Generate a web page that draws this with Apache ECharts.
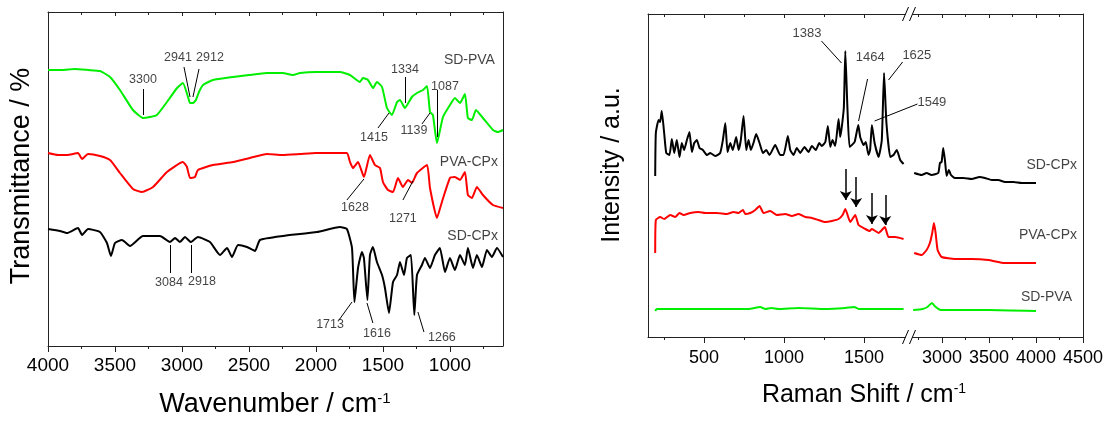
<!DOCTYPE html>
<html><head><meta charset="utf-8">
<script src="https://cdn.jsdelivr.net/npm/echarts@6/dist/echarts.min.js"></script>
<style>html,body{margin:0;padding:0;background:#fff}#c{width:1114px;height:422px}</style>
</head><body><div id="c"></div>
<script>
// ---------- tick labels ----------
const ftirTicks = [4000, 3500, 3000, 2500, 2000, 1500, 1000];
const ftirMinorTicks = [3750, 3250, 2750, 2250, 1750, 1250, 750];
const ramanTicksLow = [500, 1000, 1500];
const ramanMinorLow = [250, 750, 1250];
const ramanTicksHigh = [3000, 3500, 4000, 4500];
const ramanMinorHigh = [2750, 3250, 3750, 4250];

// ---------- FTIR spectra [wavenumber, offset transmittance a.u.] ----------
const ftirSDPVA = [[4000,276],[3900,276],[3800,277],[3700,276],[3612,275],[3537,269],[3463,256],[3366,236],[3291,228],[3240,229],[3187,231],[3112,244],[3037,258],[2993,263],[2955,249],[2940,243],[2918,243],[2896,246],[2873,254],[2843,261],[2769,266],[2619,269],[2500,271],[2366,273],[2250,273],[2172,271],[2119,273],[2000,274],[1900,274],[1821,274],[1746,271],[1672,264],[1649,268],[1612,266],[1574,258],[1545,264],[1507,259],[1470,238],[1433,231],[1395,244],[1373,246],[1336,238],[1284,249],[1246,253],[1201,256],[1171,260],[1149,234],[1127,231],[1097,203],[1052,229],[1000,241],[963,248],[925,243],[888,252],[866,228],[836,226],[806,236],[754,228],[679,216],[642,214],[604,216]];
const ftirPVACPx = [[4000,193],[3925,191],[3858,191],[3776,193],[3746,187],[3701,192],[3612,190],[3537,186],[3463,173],[3366,157],[3298,154],[3216,159],[3112,174],[2993,184],[2963,179],[2940,168],[2903,169],[2881,176],[2769,181],[2619,184],[2492,188],[2366,192],[2250,191],[2119,192],[2000,193],[1900,193],[1769,193],[1746,184],[1724,178],[1686,184],[1642,169],[1597,191],[1560,181],[1522,178],[1500,164],[1463,156],[1425,154],[1388,168],[1351,159],[1313,166],[1284,163],[1246,173],[1171,181],[1149,158],[1097,128],[1060,144],[1000,168],[963,169],[925,166],[888,174],[866,151],[836,148],[799,159],[754,151],[679,141],[604,138]];
const ftirSDCPx = [[4000,117],[3910,115],[3858,113],[3776,118],[3746,111],[3701,117],[3612,114],[3560,103],[3530,90],[3500,103],[3448,106],[3388,100],[3291,110],[3164,110],[3090,104],[3052,108],[3015,104],[2978,109],[2933,104],[2881,109],[2791,104],[2716,91],[2664,98],[2627,89],[2582,101],[2515,99],[2455,95],[2418,106],[2246,110],[1992,114],[1821,119],[1769,117],[1731,98],[1713,44],[1686,78],[1657,94],[1642,88],[1616,46],[1597,91],[1575,99],[1545,84],[1507,71],[1485,58],[1455,33],[1425,64],[1395,71],[1373,84],[1343,71],[1321,88],[1291,91],[1266,31],[1246,71],[1209,81],[1187,88],[1149,78],[1112,91],[1075,98],[1037,74],[1000,88],[963,76],[925,91],[888,81],[866,98],[828,78],[799,91],[761,79],[724,96],[687,89],[649,98],[604,89]];

// ---------- Raman spectra [shift, offset intensity a.u.] ----------
const ramanSDCPxLow = [[195,161],[199,204],[216,217],[226,215],[236,226],[251,204],[264,184],[284,182],[299,198],[314,184],[330,197],[347,180],[361,194],[376,187],[393,197],[409,205],[424,185],[439,194],[455,197],[472,189],[493,187],[518,182],[539,184],[570,181],[601,184],[618,197],[633,214],[647,185],[664,194],[680,187],[701,200],[716,187],[730,197],[747,221],[764,187],[778,197],[793,187],[809,194],[826,203],[847,194],[868,184],[889,187],[909,182],[945,192],[976,182],[997,182],[1024,201],[1039,187],[1059,182],[1080,189],[1101,184],[1128,190],[1153,185],[1174,191],[1199,187],[1220,194],[1236,191],[1258,195],[1274,211],[1289,190],[1303,197],[1320,191],[1341,218],[1351,200],[1361,210],[1374,230],[1383,286],[1396,230],[1410,190],[1441,195],[1464,212],[1476,200],[1497,192],[1511,195],[1528,182],[1538,187],[1549,212],[1566,194],[1591,180],[1611,197],[1625,264],[1640,214],[1664,180],[1684,182],[1705,187],[1726,177],[1747,173]];
const ramanSDCPxHigh = [[2705,164],[2784,162],[2837,164],[2890,162],[2961,164],[2979,174],[2997,175],[3014,189],[3032,177],[3050,161],[3074,167],[3096,162],[3138,159],[3230,159],[3316,158],[3400,160],[3457,159],[3529,157],[3600,157],[3670,155],[3760,155],[3848,154],[3930,154],[4000,154]];
const ramanPVACPxLow = [[195,84],[199,117],[226,120],[251,118],[289,122],[320,120],[347,124],[372,122],[414,124],[466,125],[508,124],[580,124],[643,123],[684,125],[716,124],[743,127],[758,123],[789,124],[820,127],[847,131],[872,124],[914,126],[955,122],[1008,123],[1049,121],[1091,123],[1133,120],[1174,119],[1216,117],[1258,115],[1299,116],[1341,118],[1366,122],[1383,128],[1414,115],[1445,122],[1466,112],[1508,108],[1535,106],[1549,108],[1591,104],[1630,110],[1653,100],[1695,100],[1747,98]];
const ramanPVACPxHigh = [[2705,84],[2784,82],[2837,87],[2872,94],[2897,104],[2915,114],[2933,104],[2954,87],[2997,80],[3138,78],[3316,78],[3493,77],[3670,74],[3848,74],[4000,74]];
const ramanSDPVALow = [[195,26],[205,28],[403,28],[611,28],[778,28],[851,30],[883,28],[920,29],[966,28],[1091,29],[1258,28],[1383,29],[1439,30],[1466,28],[1747,28]];
const ramanSDPVAHigh = [[2694,27],[2793,28],[2846,30],[2893,34],[2935,30],[2988,27],[3502,27],[4000,26]];

// ---------- annotations: [text, textX, textY, lineX1, lineY1, lineX2, lineY2] ----------
const ftirPeakNotes = [
  ['3300', 3291, 266, 3291, 231, 3291, 257],
  ['2941', 3030, 288, 2940, 249, 2985, 279],
  ['2912', 2791, 288, 2918, 249, 2873, 277],
  ['1334', 1336, 276, 1336, 243, 1336, 269],
  ['1415', 1567, 208, 1455, 233, 1537, 218],
  ['1139', 1269, 215, 1149, 233, 1209, 222],
  ['1087', 1037, 259, 1097, 209, 1097, 256],
  ['1628', 1709, 138, 1642, 167, 1769, 146],
  ['1271', 1351, 127, 1276, 165, 1351, 146],
  ['3084', 3097, 63, 3090, 101, 3090, 73],
  ['2918', 2851, 64, 2933, 101, 2933, 73],
  ['1713', 1895, 21, 1731, 44, 1828, 26],
  ['1616', 1545, 12, 1619, 43, 1575, 23],
  ['1266', 1060, 8, 1239, 34, 1194, 14]
];
const ftirSeriesNotes = [['SD-PVA', 664, 286], ['PVA-CPx', 642, 184], ['SD-CPx', 642, 110]];
const ramanPeakNotes = [
  ['1383', 1143, 304, 1234, 296, 1359, 274],
  ['1464', 1539, 280, 1522, 258, 1466, 216],
  ['1625', 1830, 282, 1741, 275, 1653, 257],
  ['1549', 1924, 235, 1834, 233, 1566, 216]
];
const ramanSeriesNotes = [['SD-CPx', 4436, 172], ['PVA-CPx', 4436, 102], ['SD-PVA', 4383, 40]];
// arrows: [shift, fromY, toY]
const ramanArrows = [[1386, 168, 137], [1451, 160, 130], [1549, 144, 113], [1633, 142, 112]];

// ---------- build chart ----------
const FONT = '"Liberation Sans", Arial, Helvetica, sans-serif';
const AX = '#222';
const chart = echarts.init(document.getElementById('c'));

function xAx(o) {
  return {
    type: 'value', gridIndex: o.grid, min: o.min, max: o.max, inverse: !!o.inverse, position: o.pos,
    axisLine: {show: !!o.line, onZero: false, lineStyle: {color: AX, width: 1}},
    axisTick: {show: true, inside: !!o.inside, length: o.len, customValues: o.ticks, lineStyle: {color: AX, width: 1}},
    axisLabel: o.labels ? {show: true, customValues: o.labels, fontSize: o.fs, color: '#000', fontFamily: FONT, margin: o.margin,
      formatter: v => String(v)} : {show: false},
    splitLine: {show: false}
  };
}
function yAx(grid, max, pos) {
  return {type: 'value', gridIndex: grid, min: 0, max: max, position: pos,
    axisLine: {show: true, onZero: false, lineStyle: {color: AX, width: 1}},
    axisTick: {show: false}, axisLabel: {show: false}, splitLine: {show: false}};
}
function lineS(data, color, xi, yi) {
  return {type: 'line', data: data, xAxisIndex: xi, yAxisIndex: yi, symbol: 'none', showSymbol: false,
    smooth: 0.15, lineStyle: {color: color, width: 2}, itemStyle: {color: color}, silent: true, z: 2};
}
function labelS(items, xi, yi, fs, right) {
  return {type: 'scatter', xAxisIndex: xi, yAxisIndex: yi, symbolSize: 0, silent: true, clip: false, z: 5,
    data: items.map(n => ({name: n[0], value: [n[1], n[2]]})),
    label: {show: true, position: right ? 'left' : 'inside', distance: 0, formatter: '{b}',
      fontSize: fs, fontFamily: FONT, color: '#111'}};
}
function leaderS(items, xi, yi) {
  return {type: 'lines', coordinateSystem: 'cartesian2d', xAxisIndex: xi, yAxisIndex: yi, silent: true, clip: false, z: 4,
    symbol: ['none', 'none'], lineStyle: {color: '#000', width: 1, opacity: 1, curveness: 0},
    data: items.map(n => ({coords: [[n[3], n[4]], [n[5], n[6]]]}))};
}

const ftirMin = 604, ftirMax = 4000;
const lowMin = 150, lowMax = 1781, highMin = 2650, highMax = 4500;

const option = {
  animation: false,
  backgroundColor: '#fff',
  textStyle: {fontFamily: FONT},
  grid: [
    {left: 48, top: 12, width: 455, height: 334, outerBoundsMode: 'none'},
    {left: 648, top: 14, width: 261, height: 323, outerBoundsMode: 'none'},
    {left: 909, top: 14, width: 174, height: 323, outerBoundsMode: 'none'}
  ],
  xAxis: [
    xAx({grid: 0, min: ftirMin, max: ftirMax, inverse: true, pos: 'bottom', line: true, ticks: ftirTicks, len: 6, labels: ftirTicks, fs: 19, margin: 10}),
    xAx({grid: 0, min: ftirMin, max: ftirMax, inverse: true, pos: 'bottom', ticks: ftirMinorTicks, len: 3}),
    xAx({grid: 0, min: ftirMin, max: ftirMax, inverse: true, pos: 'top', line: true, ticks: ftirTicks, len: 4, inside: true}),
    xAx({grid: 0, min: ftirMin, max: ftirMax, inverse: true, pos: 'top', ticks: ftirMinorTicks, len: 3, inside: true}),
    xAx({grid: 1, min: lowMin, max: lowMax, pos: 'bottom', line: true, ticks: ramanTicksLow, len: 6, labels: ramanTicksLow, fs: 18, margin: 12}),
    xAx({grid: 1, min: lowMin, max: lowMax, pos: 'bottom', ticks: ramanMinorLow, len: 3}),
    xAx({grid: 1, min: lowMin, max: lowMax, pos: 'top', line: true, ticks: ramanTicksLow, len: 4, inside: true}),
    xAx({grid: 1, min: lowMin, max: lowMax, pos: 'top', ticks: ramanMinorLow, len: 3, inside: true}),
    xAx({grid: 2, min: highMin, max: highMax, pos: 'bottom', line: true, ticks: ramanTicksHigh, len: 6, labels: ramanTicksHigh, fs: 18, margin: 12}),
    xAx({grid: 2, min: highMin, max: highMax, pos: 'bottom', ticks: ramanMinorHigh, len: 3}),
    xAx({grid: 2, min: highMin, max: highMax, pos: 'top', line: true, ticks: ramanTicksHigh, len: 4, inside: true}),
    xAx({grid: 2, min: highMin, max: highMax, pos: 'top', ticks: ramanMinorHigh, len: 3, inside: true})
  ],
  yAxis: [yAx(0, 334, 'left'), yAx(0, 334, 'right'), yAx(1, 323, 'left'), yAx(2, 323, 'right')],
  series: [
    lineS(ftirSDPVA, '#00ee00', 0, 0),
    lineS(ftirPVACPx, '#ff0000', 0, 0),
    lineS(ftirSDCPx, '#000000', 0, 0),
    leaderS(ftirPeakNotes, 0, 0),
    labelS(ftirPeakNotes.map(n => [n[0], n[1], n[2]]), 0, 0, 12.5, false),
    labelS(ftirSeriesNotes, 0, 0, 14, true),

    lineS(ramanSDCPxLow, '#000000', 4, 2),
    lineS(ramanPVACPxLow, '#ff0000', 4, 2),
    lineS(ramanSDPVALow, '#00ee00', 4, 2),
    lineS(ramanSDCPxHigh, '#000000', 8, 3),
    lineS(ramanPVACPxHigh, '#ff0000', 8, 3),
    lineS(ramanSDPVAHigh, '#00ee00', 8, 3),
    leaderS(ramanPeakNotes, 4, 2),
    labelS(ramanPeakNotes.map(n => [n[0], n[1], n[2]]), 4, 2, 13, false),
    labelS(ramanSeriesNotes, 8, 3, 14, true),
    {type: 'lines', coordinateSystem: 'cartesian2d', xAxisIndex: 4, yAxisIndex: 2, silent: true, clip: false, z: 4,
      symbol: ['none', 'arrow'], symbolSize: 9, lineStyle: {color: '#000', width: 1.5, opacity: 1},
      data: ramanArrows.map(a => ({coords: [[a[0], a[1]], [a[0], a[2]]]}))}
  ]
};
chart.setOption(option);

// ---------- titles and axis-break marks ----------
const xb = chart.convertToPixel({xAxisIndex: 8}, highMin);
const yTop = chart.convertToPixel({yAxisIndex: 3}, 323);
const yBot = chart.convertToPixel({yAxisIndex: 3}, 0);
const g = [];
[yTop, yBot].forEach(y0 => {
  g.push({type: 'polygon', z: 100, shape: {points: [[xb - 6.5, y0 + 7], [xb - 0.5, y0 - 7], [xb + 6.5, y0 - 7], [xb + 0.5, y0 + 7]]}, style: {fill: '#fff', stroke: null}});
  g.push({type: 'line', z: 101, shape: {x1: xb - 6.5, y1: y0 + 7, x2: xb - 0.5, y2: y0 - 7}, style: {stroke: '#000', lineWidth: 1}});
  g.push({type: 'line', z: 101, shape: {x1: xb + 0.5, y1: y0 + 7, x2: xb + 6.5, y2: y0 - 7}, style: {stroke: '#000', lineWidth: 1}});
});
function title(text, x, y, size, rot) {
  return {type: 'text', x: x, y: y, rotation: rot || 0, z: 100,
    style: {text: text, fill: '#000', font: size + 'px ' + FONT, textAlign: 'center', textVerticalAlign: 'middle', align: 'center', verticalAlign: 'middle'}};
}
function supTitle(main, sup, x, y, size) {
  return {type: 'text', x: x, y: y, z: 100,
    style: {text: '{a|' + main + '}{s|' + sup + '}', fill: '#000', textAlign: 'center', textVerticalAlign: 'middle', align: 'center', verticalAlign: 'middle',
      rich: {a: {fontSize: size, fontFamily: FONT, fill: '#000'}, s: {fontSize: Math.round(size * 0.55), fontFamily: FONT, fill: '#000', verticalAlign: 'top'}}}};
}
g.push(title('Transmittance / %', 22, 176, 27, Math.PI / 2));
g.push(title('Intensity / a.u.', 612, 165, 25, Math.PI / 2));
g.push(supTitle('Wavenumber / cm', '-1', 275, 405, 27));
g.push(supTitle('Raman Shift / cm', '-1', 864, 395, 25));
chart.setOption({graphic: g});
</script>
</body></html>
